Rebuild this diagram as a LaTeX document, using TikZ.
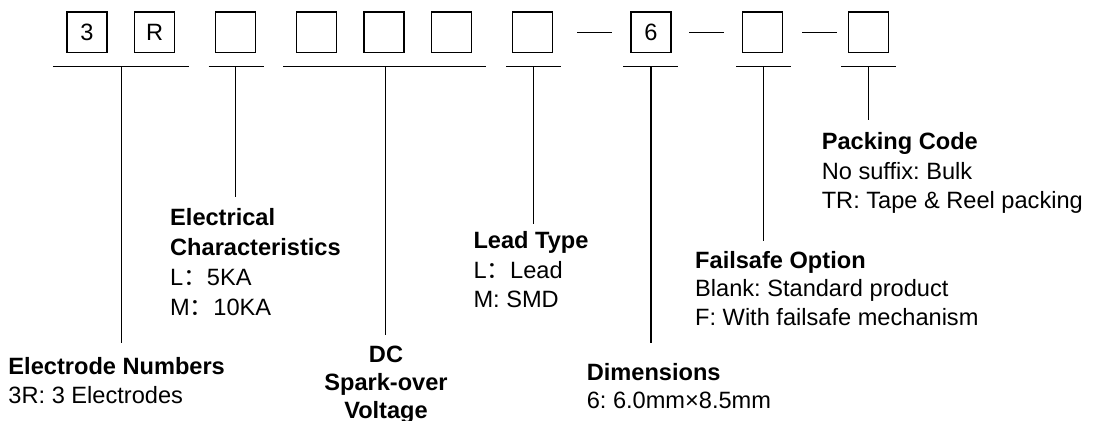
\documentclass[tikz,border=0pt]{standalone}
\usepackage{fontspec}
\setmainfont{Liberation Sans}
\newfontfamily\cjk{Noto Sans CJK SC}
\newcommand{\fwc}{{\cjk ：}}
\frenchspacing
\begin{document}
\begin{tikzpicture}[x=1pt,y=-1pt,
  every node/.style={inner sep=0pt,outer sep=0pt},
  codebox/.style={draw=black,line width=1.3pt,minimum width=40pt,minimum height=40.5pt,
    font=\fontsize{23.6}{28}\selectfont},
  dashline/.style={line width=1.4pt},
  bracket/.style={line width=1.4pt},
  stem/.style={line width=1.4pt},
  ttl/.style={anchor=base west,font=\fontsize{23.6}{28}\selectfont\bfseries},
  txt/.style={anchor=base west,font=\fontsize{23.6}{28}\selectfont},
  ctl/.style={anchor=base,font=\fontsize{23.6}{28}\selectfont\bfseries}]
\useasboundingbox[fill=white] (0,0) rectangle (1094,420);

% code boxes
\node[codebox] (c1) at (87,32.3) {3};
\node[codebox] (c2) at (154.7,32.3) {R};
\node[codebox] (c3) at (235.6,32.3) {};
\node[codebox] (c4) at (316.6,32.3) {};
\node[codebox] (c5) at (384,32.3) {};
\node[codebox] (c6) at (451.7,32.3) {};
\node[codebox] (c7) at (532.7,32.3) {};
\node[codebox] (c8) at (651,32.3) {6};
\node[codebox] (c9) at (762.7,32.3) {};
\node[codebox] (c10) at (868.7,32.3) {};

% dashes between boxes
\coordinate (d1a) at (577.3,32.7); \coordinate (d1b) at (612.3,32.7);
\coordinate (d2a) at (689,32.7);   \coordinate (d2b) at (724,32.7);
\coordinate (d3a) at (802,32.7);   \coordinate (d3b) at (836.5,32.7);
\draw[dashline] (d1a) -- (d1b);
\draw[dashline] (d2a) -- (d2b);
\draw[dashline] (d3a) -- (d3b);

% brackets
\coordinate (b1l) at (52.9,66.7);  \coordinate (b1r) at (189.3,66.7); \coordinate (b1s) at (121.4,66.7); \coordinate (e1) at (121.4,343);
\coordinate (b2l) at (208.6,66.7); \coordinate (b2r) at (263.6,66.7); \coordinate (b2s) at (235.7,66.7); \coordinate (e2) at (235.7,196.7);
\coordinate (b3l) at (283.2,66.7); \coordinate (b3r) at (485.7,66.7); \coordinate (b3s) at (385.7,66.7); \coordinate (e3) at (385.7,335);
\coordinate (b4l) at (506,66.7);   \coordinate (b4r) at (561,66.7);   \coordinate (b4s) at (533.3,66.7); \coordinate (e4) at (533.3,224);
\coordinate (b5l) at (623,66.7);   \coordinate (b5r) at (678,66.7);   \coordinate (b5s) at (651,66.7);   \coordinate (e5) at (651,343);
\coordinate (b6l) at (736,66.7);   \coordinate (b6r) at (791,66.7);   \coordinate (b6s) at (763.3,66.7); \coordinate (e6) at (763.3,240.5);
\coordinate (b7l) at (841,66.7);   \coordinate (b7r) at (896,66.7);   \coordinate (b7s) at (868.3,66.7); \coordinate (e7) at (868.3,120);
\foreach \i in {1,...,7}{
  \draw[bracket] (b\i l) -- (b\i r);
  \draw[stem] (b\i s) -- (e\i);
}

% labels
\node[ttl] (en1) at (8.5,374) {Electrode Numbers};
\node[txt] (en2) at (8.5,403) {3R: 3 Electrodes};

\node[ttl] (ec1) at (170.2,225) {Electrical};
\node[ttl] (ec2) at (170.2,255) {Characteristics};
\node[txt] (ec3) at (170.2,285) {L\fwc 5KA};
\node[txt] (ec4) at (170.2,315) {M\fwc 10KA};

\node[ctl] (dc1) at (386,362) {DC};
\node[ctl] (dc2) at (386,390.5) {Spark-over};
\node[ctl] (dc3) at (386,418) {Voltage};

\node[ttl] (lt1) at (473.5,248.5) {Lead Type};
\node[txt] (lt2) at (473.5,278.3) {L\fwc Lead};
\node[txt] (lt3) at (473.5,307.3) {M: SMD};

\node[ttl] (dm1) at (586.8,380) {Dimensions};
\node[txt] (dm2) at (586.8,408.3) {6: 6.0mm×8.5mm};

\node[ttl] (fs1) at (695.2,268.3) {Failsafe Option};
\node[txt] (fs2) at (695.2,296.7) {Blank: Standard product};
\node[txt] (fs3) at (695.2,325) {F: With failsafe mechanism};

\node[ttl] (pc1) at (821.8,149.3) {Packing Code};
\node[txt] (pc2) at (821.8,179.3) {No suffix: Bulk};
\node[txt] (pc3) at (821.8,208.3) {TR: Tape \& Reel packing};
\end{tikzpicture}
\end{document}
